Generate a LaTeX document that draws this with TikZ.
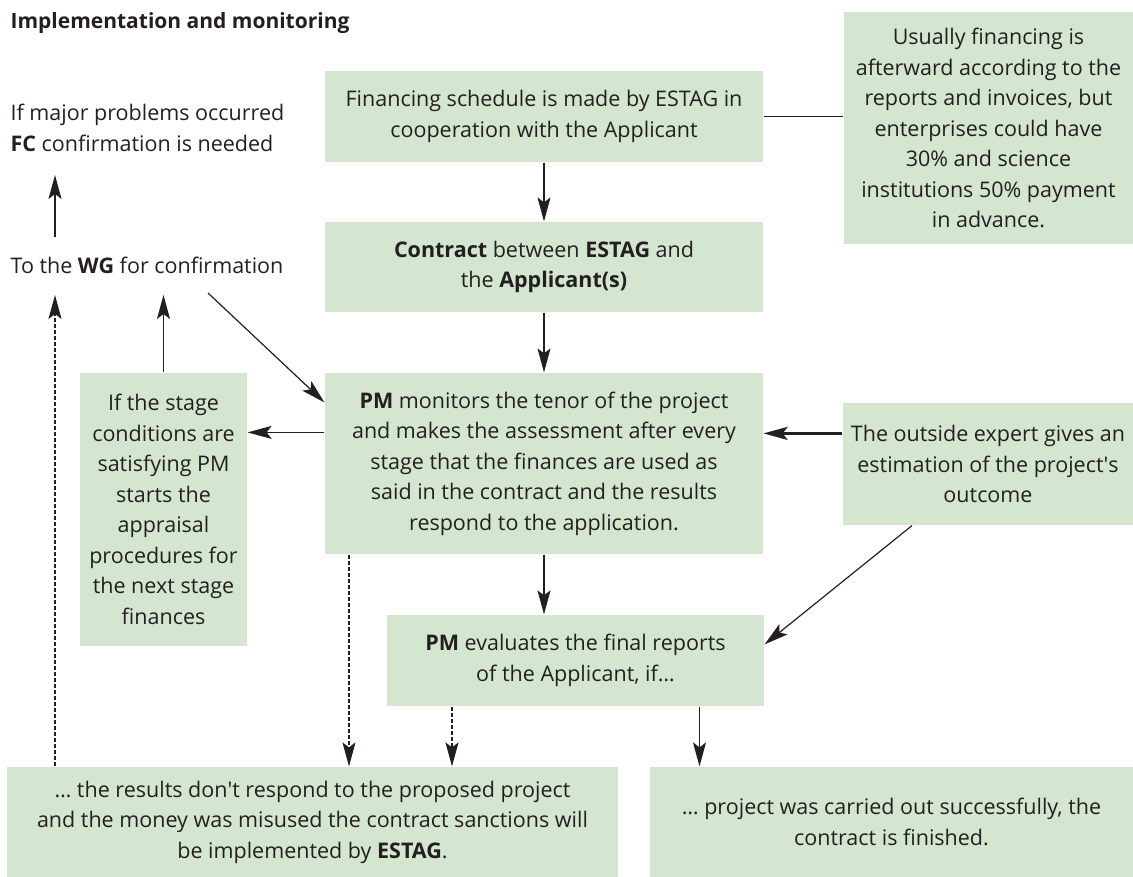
\documentclass[tikz,border=0pt]{standalone}
\usepackage{fontspec}
\setmainfont{Open Sans}
\usepackage{tikz}
\usetikzlibrary{arrows.meta,positioning,calc}
\definecolor{boxgreen}{HTML}{D4E6D0}
\definecolor{ink}{HTML}{231F20}
\tikzset{box/.style={rectangle,fill=boxgreen,inner sep=0pt,align=center,text=ink}}
\tikzset{lbl/.style={inner sep=0pt,align=left,text=ink,anchor=west}}
\tikzset{dotline/.style={dash pattern=on 4pt off 2pt,line width=1.1pt}}
\tikzset{arr/.style={-{Stealth[length=24pt,width=13pt,inset=5pt]}}}

\begin{document}
\begin{tikzpicture}[x=1pt,y=-1pt,color=ink,line width=1.2pt,font=\fontsize{21.5}{30.5}\selectfont]
    \useasboundingbox (0,0) rectangle (1133,877);

    \node [lbl,font=\fontsize{21}{30.5}\selectfont\bfseries] (title) at (10,23) {Implementation and monitoring};
    \node [lbl] (fc) at (10,128) {If major problems occurred\\\textbf{FC} confirmation is needed};
    \node [lbl] (wg) at (10,265) {To the \textbf{WG} for confirmation};

    \node [box,minimum width=438pt,minimum height=91pt] (sched) at (544,116.5)
      {Financing schedule is made by ESTAG in\\cooperation with the Applicant};
    \node [box,minimum width=289pt,minimum height=232pt] (usually) at (988.5,128)
      {Usually financing is\\afterward according to the\\reports and invoices, but\\enterprises could have\\30\% and science\\institutions 50\% payment\\in advance.};
    \node [box,minimum width=438pt,minimum height=90pt] (contract) at (544,267)
      {\textbf{Contract} between \textbf{ESTAG} and\\the \textbf{Applicant(s)}};
    \node [box,minimum width=438pt,minimum height=181pt] (pm) at (544,463.5)
      {\textbf{PM} monitors the tenor of the project\\and makes the assessment after every\\stage that the finances are used as\\said in the contract and the results\\respond to the application.};
    \node [box,minimum width=167pt,minimum height=273pt] (stage) at (163.5,509.5)
      {If the stage\\conditions are\\satisfying PM\\starts the\\appraisal\\procedures for\\the next stage\\finances};
    \node [box,minimum width=290pt,minimum height=122pt] (expert) at (988,464)
      {The outside expert gives an\\estimation of the project\textquotesingle s\\outcome};
    \node [box,minimum width=377pt,minimum height=91pt] (eval) at (575.5,660.5)
      {\textbf{PM} evaluates the final reports\\of the Applicant, if…};
    \node [box,minimum width=611pt,minimum height=110pt] (fail) at (312.5,822)
      {… the results don\textquotesingle t respond to the proposed project\\and the money was misused the contract sanctions will\\be implemented by \textbf{ESTAG}.};
    \node [box,minimum width=483pt,minimum height=110pt] (done) at (891.5,822)
      {… project was carried out successfully, the\\contract is finished.};

    \coordinate (fcin) at (55,175);
    \coordinate (wgout) at (55,237);
    \coordinate (wgl) at (55,295);
    \coordinate (wgr) at (163.5,295);
    \coordinate (wgd) at (208,293);
    \coordinate (pmin) at ($(pm.north west)+(0,30)$);
    \coordinate (pmw) at ($(pm.north west)+(0,60)$);
    \coordinate (exw) at ($(expert.north west)+(0,31)$);
    \coordinate (exs) at ($(expert.south)+(-76,0)$);
    \coordinate (evin) at ($(eval.north east)+(0,30)$);

    \draw (sched.east) -- (sched.east -| usually.west);
    \draw [arr] (sched) -- (contract);
    \draw [arr] (contract) -- (pm);
    \draw [arr] (pm.south) -- (pm.south |- eval.north);
    \draw [arr] ([xshift=124pt]eval.south) -- ([xshift=124pt]eval.south |- done.north);
    \draw [arr,dotline] ([xshift=-195pt]pm.south) -- ([xshift=-195pt]pm.south |- fail.north);
    \draw [arr,dotline] ([xshift=-123.5pt]eval.south) -- ([xshift=-123.5pt]eval.south |- fail.north);
    \draw [arr,dotline] (fail.north -| wgl) -- (wgl);
    \draw [arr] (stage.north) -- (wgr);
    \draw [arr] (wgout) -- (fcin);
    \draw [arr] (wgd) -- (pmin);
    \draw [arr] (pmw) -- (pmw -| stage.east);
    \draw [arr,line width=2.6pt] (exw) -- (exw -| pm.east);
    \draw [arr] (exs) -- (evin);
\end{tikzpicture}
\end{document}
